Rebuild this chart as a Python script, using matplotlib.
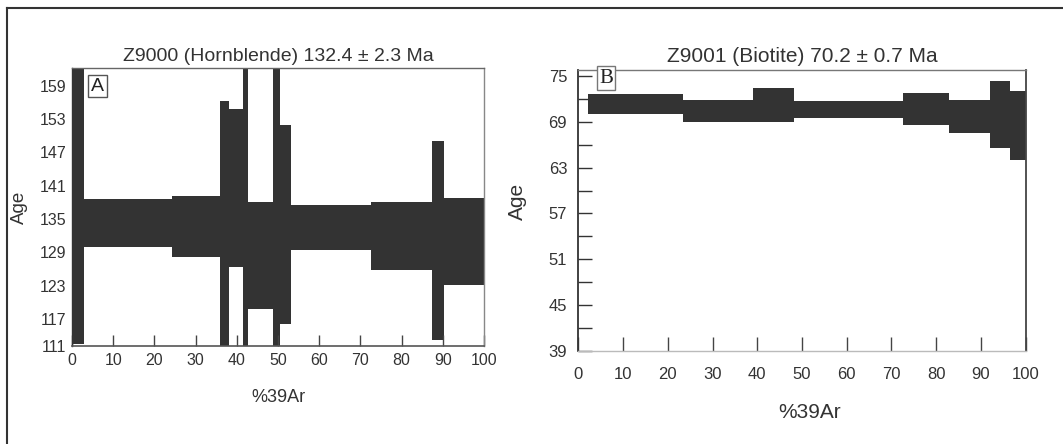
import matplotlib
matplotlib.use("Agg")
import matplotlib.pyplot as plt
from matplotlib.lines import Line2D

plt.rcParams['font.family'] = ['Liberation Sans', 'DejaVu Sans']

# Z9000 hornblende: cumulative %39Ar step edges and age band (lo, hi)
edges_a = [0, 3.0, 24.3, 36.0, 38.2, 41.6, 42.6, 48.8, 50.4, 53.2, 72.6, 87.4, 90.2, 100]
lo_a = [112.4, 130.0, 128.1, 100.0, 126.4, 100.0, 118.7, 100.0, 116.1, 129.4, 125.8, 113.1, 123.1]
hi_a = [175.0, 138.6, 139.2, 156.3, 154.9, 175.0, 138.0, 175.0, 152.0, 137.6, 138.1, 149.1, 138.7]

# Z9001 biotite
edges_b = [2.2, 23.3, 39.0, 48.2, 72.5, 82.9, 92.0, 96.6, 100]
lo_b = [70.0, 68.95, 69.0, 69.5, 68.6, 67.5, 65.6, 64.0]
hi_b = [72.7, 71.9, 73.5, 71.7, 72.8, 71.9, 74.4, 73.0]

title_a = 'Z9000 (Hornblende) 132.4 \u00b1 2.3 Ma'
title_b = 'Z9001 (Biotite) 70.2 \u00b1 0.7 Ma'

W, H = 1063, 444
fig = plt.figure(figsize=(W / 100, H / 100), dpi=100)
fill = '#333333'
txt = '#333333'


def steps(ax, edges, lo, hi):
    lefts = edges[:-1]
    widths = [b - a for a, b in zip(edges[:-1], edges[1:])]
    heights = [h - l for l, h in zip(lo, hi)]
    ax.bar(lefts, heights, width=widths, bottom=lo, align='edge',
           color=fill, edgecolor='none', linewidth=0)


# ---- panel A
ax1 = fig.add_axes([72 / W, (H - 346) / H, 412 / W, 278 / H])
steps(ax1, edges_a, lo_a, hi_a)
ax1.set_xlim(0, 100)
ax1.set_ylim(112.1, 162.2)
ax1.set_yticks([112.1, 117, 123, 129, 135, 141, 147, 153, 159])
ax1.set_yticklabels(['111', '117', '123', '129', '135', '141', '147', '153', '159'])
ax1.set_xticks(range(0, 101, 10))
ax1.tick_params(axis='y', length=0, pad=4, labelsize=11.5, labelcolor=txt)
ax1.tick_params(axis='x', direction='in', length=8, width=1, color='#444444',
                pad=5, labelsize=11.5, labelcolor=txt)
ax1.set_title(title_a, fontsize=14, color=txt, pad=5)
ax1.set_xlabel('%39Ar', fontsize=13, color=txt)
ax1.set_ylabel('Age', fontsize=13.5, color=txt)
ax1.xaxis.set_label_coords(0.5, -0.155)
ax1.yaxis.set_label_coords(-0.107, 0.5)
for side, c, w in [('top', '#666666', 1), ('right', '#888888', 1),
                   ('bottom', '#555555', 1.2), ('left', '#333333', 1)]:
    ax1.spines[side].set_color(c)
    ax1.spines[side].set_linewidth(w)
ax1.text(0.062, 0.935, 'A', transform=ax1.transAxes, ha='center', va='center',
         fontsize=14, color='#222222',
         bbox=dict(boxstyle='square,pad=0.15', fc='white', ec='#555555', lw=1))

# ---- panel B
ax2 = fig.add_axes([578.3 / W, (H - 350.7) / H, 447.4 / W, 280.7 / H])
steps(ax2, edges_b, lo_b, hi_b)
ax2.set_xlim(0, 100)
ax2.set_ylim(39, 75.8)
ax2.set_yticks(range(39, 76, 6))
ax2.set_yticks(range(42, 76, 6), minor=True)
ax2.set_xticks(range(0, 101, 10))
ax2.tick_params(axis='y', which='both', direction='in', length=10, width=1,
                color='#333333', pad=8, labelsize=12, labelcolor=txt)
ax2.tick_params(axis='x', direction='in', length=10, width=1, color='#444444',
                pad=12, labelsize=12, labelcolor=txt)
ax2.set_title(title_b, fontsize=15, color=txt, pad=6)
ax2.set_xlabel('%39Ar', fontsize=15, color=txt)
ax2.set_ylabel('Age', fontsize=15, color=txt)
ax2.xaxis.set_label_coords(0.518, -0.185)
ax2.yaxis.set_label_coords(-0.115, 0.53)
for side, c, w in [('top', '#777777', 1), ('right', '#444444', 1.3),
                   ('bottom', '#bbbbbb', 1), ('left', '#333333', 1.3)]:
    ax2.spines[side].set_color(c)
    ax2.spines[side].set_linewidth(w)
ax2.text(0.062, 0.97, 'B', transform=ax2.transAxes, ha='center', va='center',
         fontsize=15, color='#222222', family='Liberation Serif',
         bbox=dict(boxstyle='square,pad=0.12', fc='white', ec='#777777', lw=1))

# outer frame (left and top edges only visible in the source)
fig.add_artist(Line2D([7 / W, 7 / W], [0, 1 - 8 / H], transform=fig.transFigure,
                      color='#333333', lw=1.5))
fig.add_artist(Line2D([7 / W, 1], [1 - 8 / H, 1 - 8 / H], transform=fig.transFigure,
                      color='#333333', lw=1.5))

fig.savefig('out.png', dpi=100)
